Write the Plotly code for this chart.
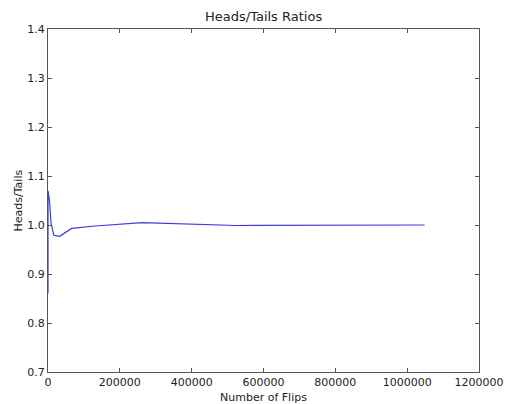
import plotly.graph_objects as go

flips = [4, 8, 16, 32, 64, 128, 256, 512, 1024, 2048, 4096, 8192, 16384,
         32768, 65536, 131072, 262144, 524288, 1048576]
ratios = [1.0, 0.86, 1.07, 0.94, 1.03, 0.97, 1.05, 1.02, 1.04, 1.06, 1.05,
          1.005, 0.979, 0.977, 0.993, 0.998, 1.005, 0.999, 1.0]

x_ticks = [0, 200000, 400000, 600000, 800000, 1000000, 1200000]
y_ticks = [0.7, 0.8, 0.9, 1.0, 1.1, 1.2, 1.3, 1.4]

fig = go.Figure()
fig.add_trace(go.Scatter(x=flips, y=ratios, mode="lines",
                         line=dict(color="#3a3ae0", width=1.2),
                         showlegend=False, hoverinfo="skip"))

axis_common = dict(showgrid=False, zeroline=False, showline=True,
                   linecolor="#555", linewidth=1, mirror="ticks",
                   ticks="inside", ticklen=4, tickcolor="#555",
                   tickfont=dict(family="DejaVu Sans", size=11, color="#222"))

fig.update_layout(
    width=516, height=404,
    margin=dict(l=48, r=28, t=29, b=32),
    paper_bgcolor="white", plot_bgcolor="white",
    font=dict(family="DejaVu Sans", color="#222"),
    xaxis=dict(range=[0, 1200000], tickvals=x_ticks,
               ticktext=[str(v) for v in x_ticks], **axis_common),
    yaxis=dict(range=[0.7, 1.4], tickvals=y_ticks,
               ticktext=[f"{v:.1f}" for v in y_ticks], **axis_common),
    annotations=[
        dict(text="Heads/Tails Ratios", x=0.5, y=1, xref="paper", yref="paper",
             yshift=13, showarrow=False, yanchor="middle",
             font=dict(size=13, family="DejaVu Sans", color="#222")),
        dict(text="Number of Flips", x=0.5, y=0, xref="paper", yref="paper",
             yshift=-25, showarrow=False, yanchor="middle",
             font=dict(size=11, family="DejaVu Sans", color="#222")),
        dict(text="Heads/Tails", x=0, y=0.5, xref="paper", yref="paper",
             xshift=-30, showarrow=False, textangle=-90, xanchor="center",
             font=dict(size=11, family="DejaVu Sans", color="#222")),
    ],
)

fig.write_html("out.html")
